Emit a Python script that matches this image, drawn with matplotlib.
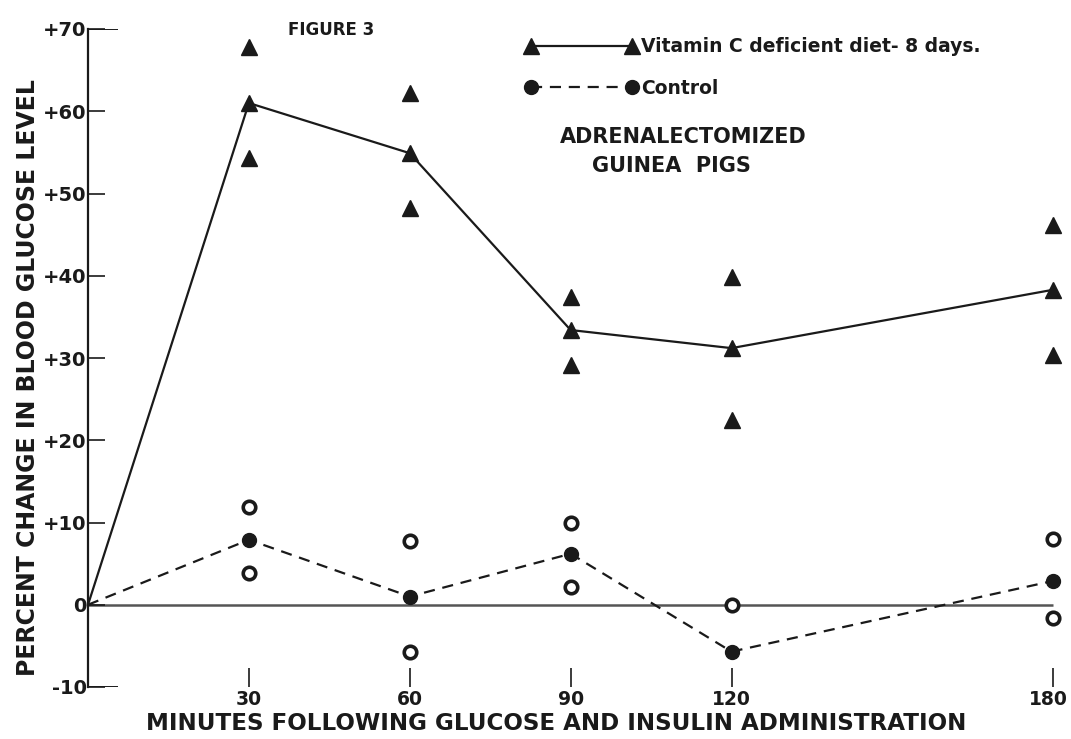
import matplotlib
matplotlib.use("Agg")
import matplotlib.pyplot as plt
import matplotlib.transforms as mtransforms

plt.rcParams['font.family'] = ['DejaVu Sans']

minutes = [0, 30, 60, 90, 120, 180]
vitc_mean = [0, 61.0, 54.9, 33.4, 31.2, 38.3]
ctrl_mean = [0, 7.9, 1.0, 6.2, -5.7, 2.9]

# individual animals
vitc_x = [30, 30, 60, 60, 90, 90, 120, 120, 180, 180]
vitc_y = [67.8, 54.3, 62.2, 48.2, 37.4, 29.2, 39.9, 22.5, 46.2, 30.4]
ctrl_x = [30, 30, 60, 60, 90, 90, 120, 180, 180]
ctrl_y = [11.9, 3.9, 7.7, -5.8, 10.0, 2.1, 0.0, 8.0, -1.6]

y_ticks = [-10, 0, 10, 20, 30, 40, 50, 60, 70]
y_labels = ["-10", "0", "+10", "+20", "+30", "+40", "+50", "+60", "+70"]
x_ticks = [30, 60, 90, 120, 180]

W, H = 1071, 739
fig = plt.figure(figsize=(W / 100, H / 100), dpi=100)
ax = fig.add_axes([88 / W, 52 / H, 976 / W, 658 / H])
ax.set_xlim(0, 182)
ax.set_ylim(-10, 70)

ink = "#1a1a1a"

def px(x, y):
    return (x / W, 1 - y / H)

ax.hlines(0, 0, 180, color="#555555", lw=1.8, zorder=1)
ax.hlines([70, -10], 0, 5.6, color=ink, lw=1.4)

ax.plot(minutes, vitc_mean, color=ink, lw=1.6, marker="^", ms=12,
        markevery=list(range(1, 6)), clip_on=False, zorder=3,
        label="Vitamin C deficient diet- 8 days.")
ax.plot(minutes, ctrl_mean, color=ink, lw=1.6, ls=(0, (5, 3.5)), marker="o", ms=10,
        markevery=list(range(1, 6)), clip_on=False, zorder=3, label="Control")

ax.plot(vitc_x, vitc_y, ls="none", marker="^", ms=12, color=ink, clip_on=False, zorder=3)
ax.plot(ctrl_x, ctrl_y, ls="none", marker="o", ms=9, mfc="white", mec=ink, mew=2.6,
        clip_on=False, zorder=3)

for s in ["top", "right", "bottom"]:
    ax.spines[s].set_visible(False)
ax.spines["left"].set_linewidth(1.6)
ax.spines["left"].set_color(ink)

ax.set_yticks(y_ticks)
ax.set_yticklabels(y_labels)
ax.tick_params(axis="y", direction="in", length=12, width=1.2, pad=1,
               labelsize=14, colors=ink)
ax.set_xticks(x_ticks)
ax.set_xticklabels([str(t) for t in x_ticks])
ax.tick_params(axis="x", direction="in", length=14, width=1.2, pad=2,
               labelsize=13.5, colors=ink)
for lab in ax.get_xticklabels() + ax.get_yticklabels():
    lab.set_fontweight("bold")
# last label sits against the right edge
last = ax.get_xticklabels()[-1]
last.set_transform(last.get_transform() +
                   mtransforms.ScaledTranslation(-5 / 100, 0, fig.dpi_scale_trans))

ax.set_ylabel("PERCENT CHANGE IN BLOOD GLUCOSE LEVEL", fontsize=17,
              fontweight="bold", color=ink)
ax.yaxis.set_label_coords(-0.049, 0.47)
ax.set_xlabel("MINUTES FOLLOWING GLUCOSE AND INSULIN ADMINISTRATION",
              fontsize=16.6, fontweight="bold", color=ink)
ax.xaxis.set_label_coords(0.48, -0.038)

leg = ax.legend(loc="upper left", bbox_to_anchor=px(518, 30), bbox_transform=fig.transFigure,
                frameon=False, numpoints=2, handlelength=6.0, handletextpad=0.15,
                labelspacing=1.2, borderaxespad=0, prop={"size": 13.5, "weight": "bold"})
for t in leg.get_texts():
    t.set_color(ink)

fig.text(*px(288, 30), "FIGURE 3", fontsize=12, fontweight="heavy", color=ink, va="center")
fig.text(*px(560, 137), "ADRENALECTOMIZED", fontsize=15, fontweight="bold", color=ink, va="center")
fig.text(*px(592, 166), "GUINEA  PIGS", fontsize=15, fontweight="bold", color=ink, va="center")

fig.savefig("out.png", dpi=100, facecolor="white")
